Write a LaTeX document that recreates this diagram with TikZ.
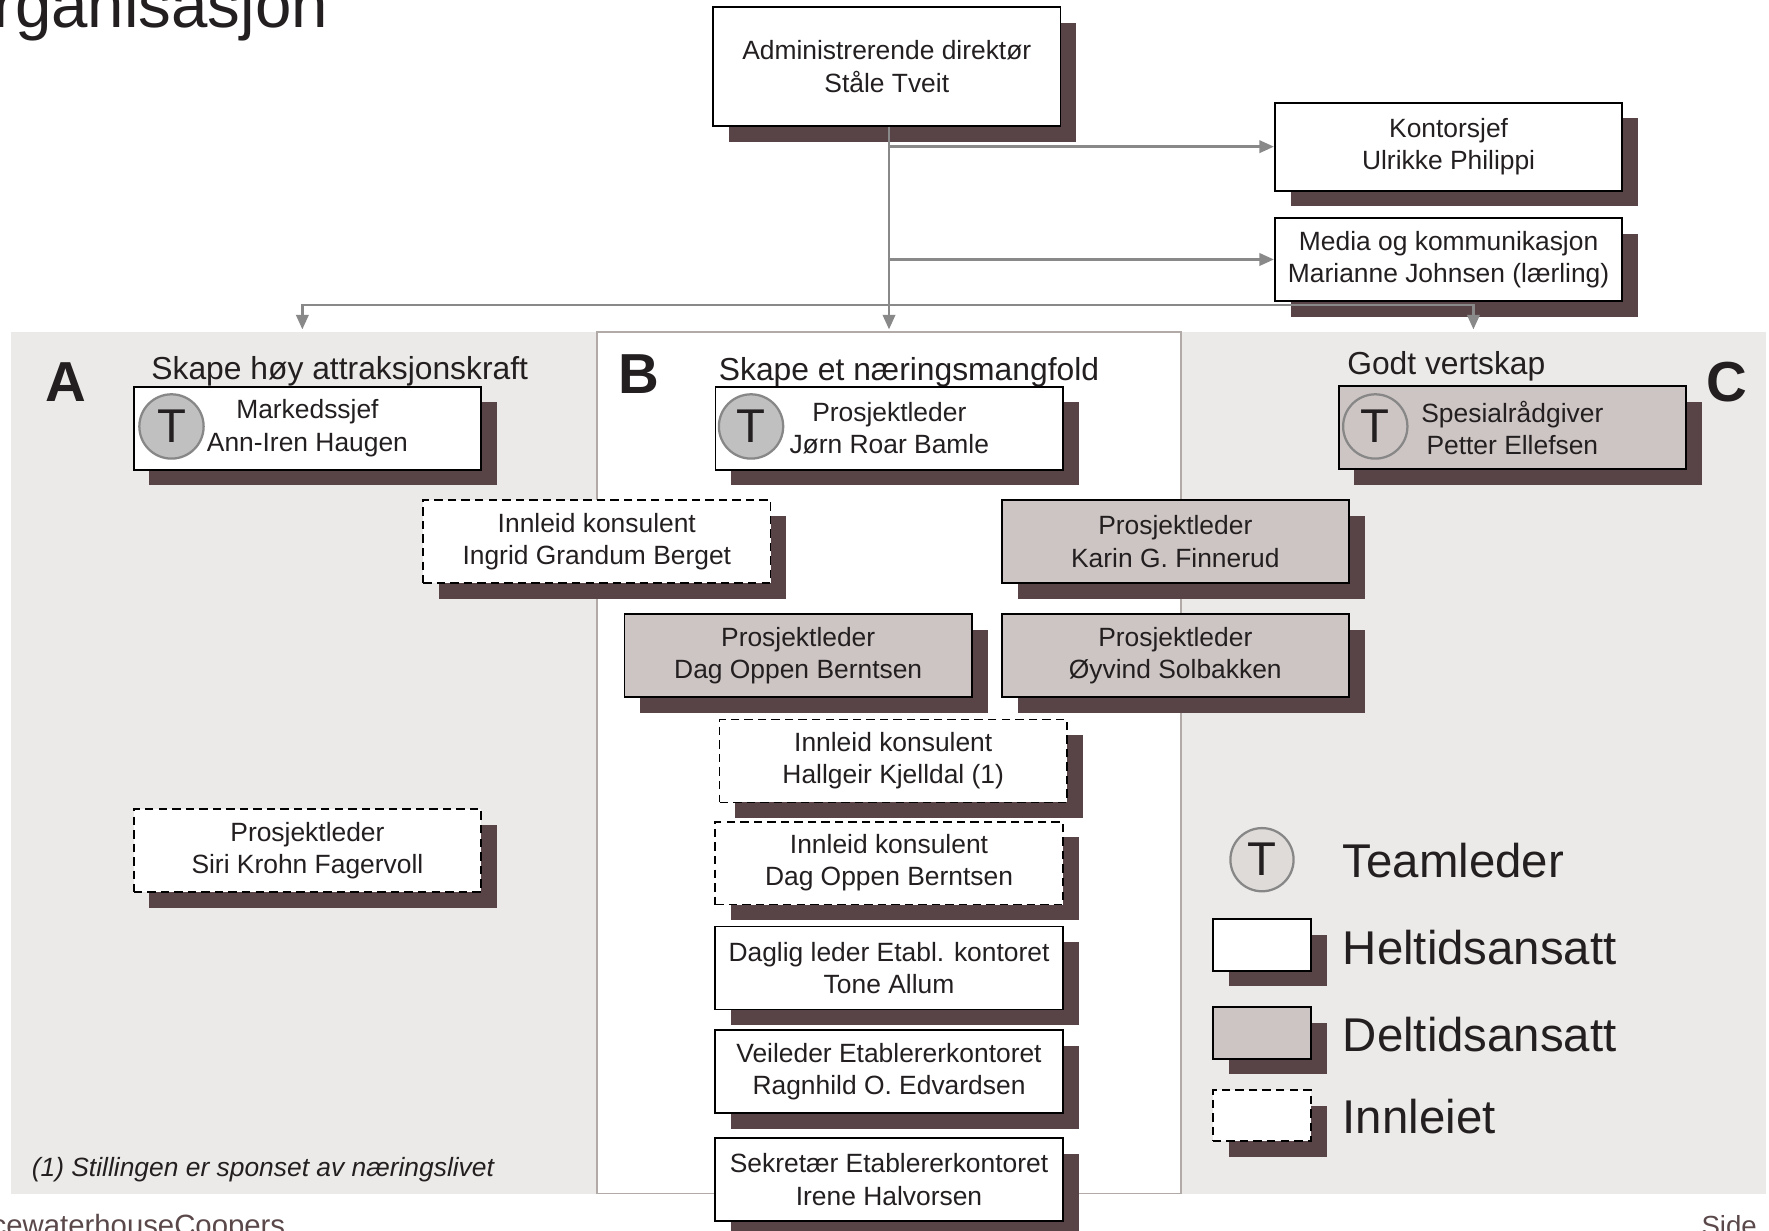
\documentclass[tikz,border=0pt]{standalone}
\usepackage{fontspec}
\setmainfont{Liberation Sans}
\usetikzlibrary{shadows,arrows.meta}
\definecolor{shadowc}{RGB}{88,68,70}
\definecolor{partc}{RGB}{205,197,195}
\definecolor{bgc}{RGB}{236,234,232}
\definecolor{connc}{RGB}{137,137,137}
\definecolor{panelc}{RGB}{178,170,166}
\definecolor{txt}{RGB}{35,31,32}
\definecolor{tfill}{RGB}{192,192,192}
\definecolor{tline}{RGB}{135,135,135}
\definecolor{legtfill}{RGB}{222,219,217}
\definecolor{footc}{RGB}{90,72,74}
\newcommand\boxfont{\fontsize{23.4}{28.5}\selectfont}
\begin{document}
\begin{tikzpicture}[x=1pt,y=-1pt,
 shad/.style={drop shadow={shadow xshift=14pt,shadow yshift=-14pt,opacity=1,fill=shadowc}},
 orgbox/.style={shad, draw=black, line width=1.6pt, minimum width=308pt, minimum height=73.5pt, inner sep=0pt, align=center, font=\boxfont, text=txt},
 full/.style={orgbox, fill=white},
 part/.style={orgbox, fill=partc},
 hired/.style={orgbox, fill=white, dash pattern=on 7.5pt off 4.5pt},
 tmark/.style={circle, draw=tline, line width=2pt, minimum size=57pt, inner sep=0pt, font=\fontsize{42}{42}\selectfont, text=txt},
 conn/.style={draw=connc, line width=2.4pt},
 tip/.style={-{Triangle[length=13pt,width=11pt]}},
 sectitle/.style={anchor=base west, inner sep=0pt, font=\fontsize{28.2}{30}\selectfont, text=txt},
 letter/.style={anchor=base west, inner sep=0pt, font=\fontsize{50}{50}\selectfont\bfseries, text=txt},
 legtext/.style={anchor=base west, inner sep=0pt, font=\fontsize{42}{42}\selectfont, text=txt},
 legbox/.style={shad, draw=black, line width=1.8pt, minimum width=87pt, minimum height=45.5pt, inner sep=0pt}
]
\useasboundingbox (0,0) rectangle (1568,1091);
\clip (0,0) rectangle (1568,1091);

% background panels
\fill[bgc] (10,294) rectangle (1565,1058);
\draw[fill=white, draw=panelc, line width=1.5pt] (529,294) rectangle (1047,1058);

% title and footer
\node[anchor=base east, inner sep=0pt, font=\fontsize{58}{58}\selectfont, text=txt] (title) at (291,24) {Organisasjon};
\node[anchor=base east, inner sep=0pt, font=\fontsize{26}{26}\selectfont, text=footc] (foot) at (253,1095) {PricewaterhouseCoopers};
\node[anchor=base west, inner sep=0pt, font=\fontsize{24.5}{24.5}\selectfont, text=footc] (side) at (1508,1095) {Side};

% section titles
\node[letter] (la) at (40,356) {A};
\node[letter] (lb) at (548,349) {B};
\node[letter] (lc) at (1512,356) {C};
\node[sectitle] (ta) at (134,336) {Skape høy attraksjonskraft};
\node[sectitle] (tb) at (637,337) {Skape et næringsmangfold};
\node[sectitle] (tc) at (1194,332) {Godt vertskap};

% arrow targets
\coordinate (tipA) at (268,292);
\coordinate (tipB) at (788,292);
\coordinate (tipC) at (1306,292);

% top boxes
\node[full, minimum height=105pt] (dir) at (786,59) {Administrerende direktør\\Ståle Tveit};
\node[full, minimum height=78pt] (kontor) at (1284,130) {Kontorsjef\\Ulrikke Philippi};
\node[full, minimum height=74pt] (media) at (1284,230) {Media og kommunikasjon\\Marianne Johnsen (lærling)};

% connectors
\draw[conn, tip] (dir.south -| tipB) -- (tipB);
\draw[conn, tip] (tipB |- kontor.west) -- (kontor.west);
\draw[conn, tip] (tipB |- media.west) -- (media.west);
\draw[conn, {Triangle[length=13pt,width=11pt]}-{Triangle[length=13pt,width=11pt]}] (tipA) -- ++(0,-21.6) -| (tipC);

% A
\node[full] (markeds) at (272.5,379.5) {Markedssjef\\Ann-Iren Haugen};
\node[tmark, fill=tfill] (tA) at (152,378) {T};
\node[hired] (siri) at (272.5,754) {Prosjektleder\\Siri Krohn Fagervoll};

% B
\node[full] (jorn) at (788.25,379.5) {Prosjektleder\\Jørn Roar Bamle};
\node[tmark, fill=tfill] (tB) at (665.7,378) {T};
\node[hired] (ingrid) at (529,480) {Innleid konsulent\\Ingrid Grandum Berget};
\node[part, minimum width=307.5pt] (karin) at (1041.75,480) {Prosjektleder\\Karin G. Finnerud};
\node[part] (dagpl) at (707.5,581) {Prosjektleder\\Dag Oppen Berntsen};
\node[part, minimum width=307.5pt] (oyvind) at (1041.75,581) {Prosjektleder\\Øyvind Solbakken};
\node[hired] (hallgeir) at (791.75,674.5) {Innleid konsulent\\Hallgeir Kjelldal (1)};
\node[hired] (daginn) at (788,765) {Innleid konsulent\\Dag Oppen Berntsen};
\node[full] (tone) at (788,858) {Daglig leder Etabl. kontoret\\Tone Allum};
\node[full] (ragnhild) at (788,950) {Veileder Etablererkontoret\\Ragnhild O. Edvardsen};
\node[full] (irene) at (788,1045.5) {Sekretær Etablererkontoret\\Irene Halvorsen};

% C
\node[part] (spesial) at (1340.5,379) {Spesialrådgiver\\Petter Ellefsen};
\node[tmark, fill=partc] (tC) at (1219,378) {T};

% footnote
\node[anchor=base west, inner sep=0pt, font=\boxfont\itshape, text=txt] (note) at (28,1043) {(1) Stillingen er sponset av næringslivet};

% legend
\node[tmark, fill=legtfill, minimum size=56pt] (legT) at (1118.6,762) {T};
\node[legtext] (legTt) at (1190,778) {Teamleder};
\node[legbox, fill=white] (legH) at (1118.5,837.5) {};
\node[legtext] (legHt) at (1190,854.5) {Heltidsansatt};
\node[legbox, fill=partc] (legD) at (1118.5,915.5) {};
\node[legtext] (legDt) at (1190,932) {Deltidsansatt};
\node[legbox, fill=white, dash pattern=on 7.5pt off 4.5pt] (legI) at (1118.5,989) {};
\node[legtext] (legIt) at (1190,1004.5) {Innleiet};
\end{tikzpicture}
\end{document}
